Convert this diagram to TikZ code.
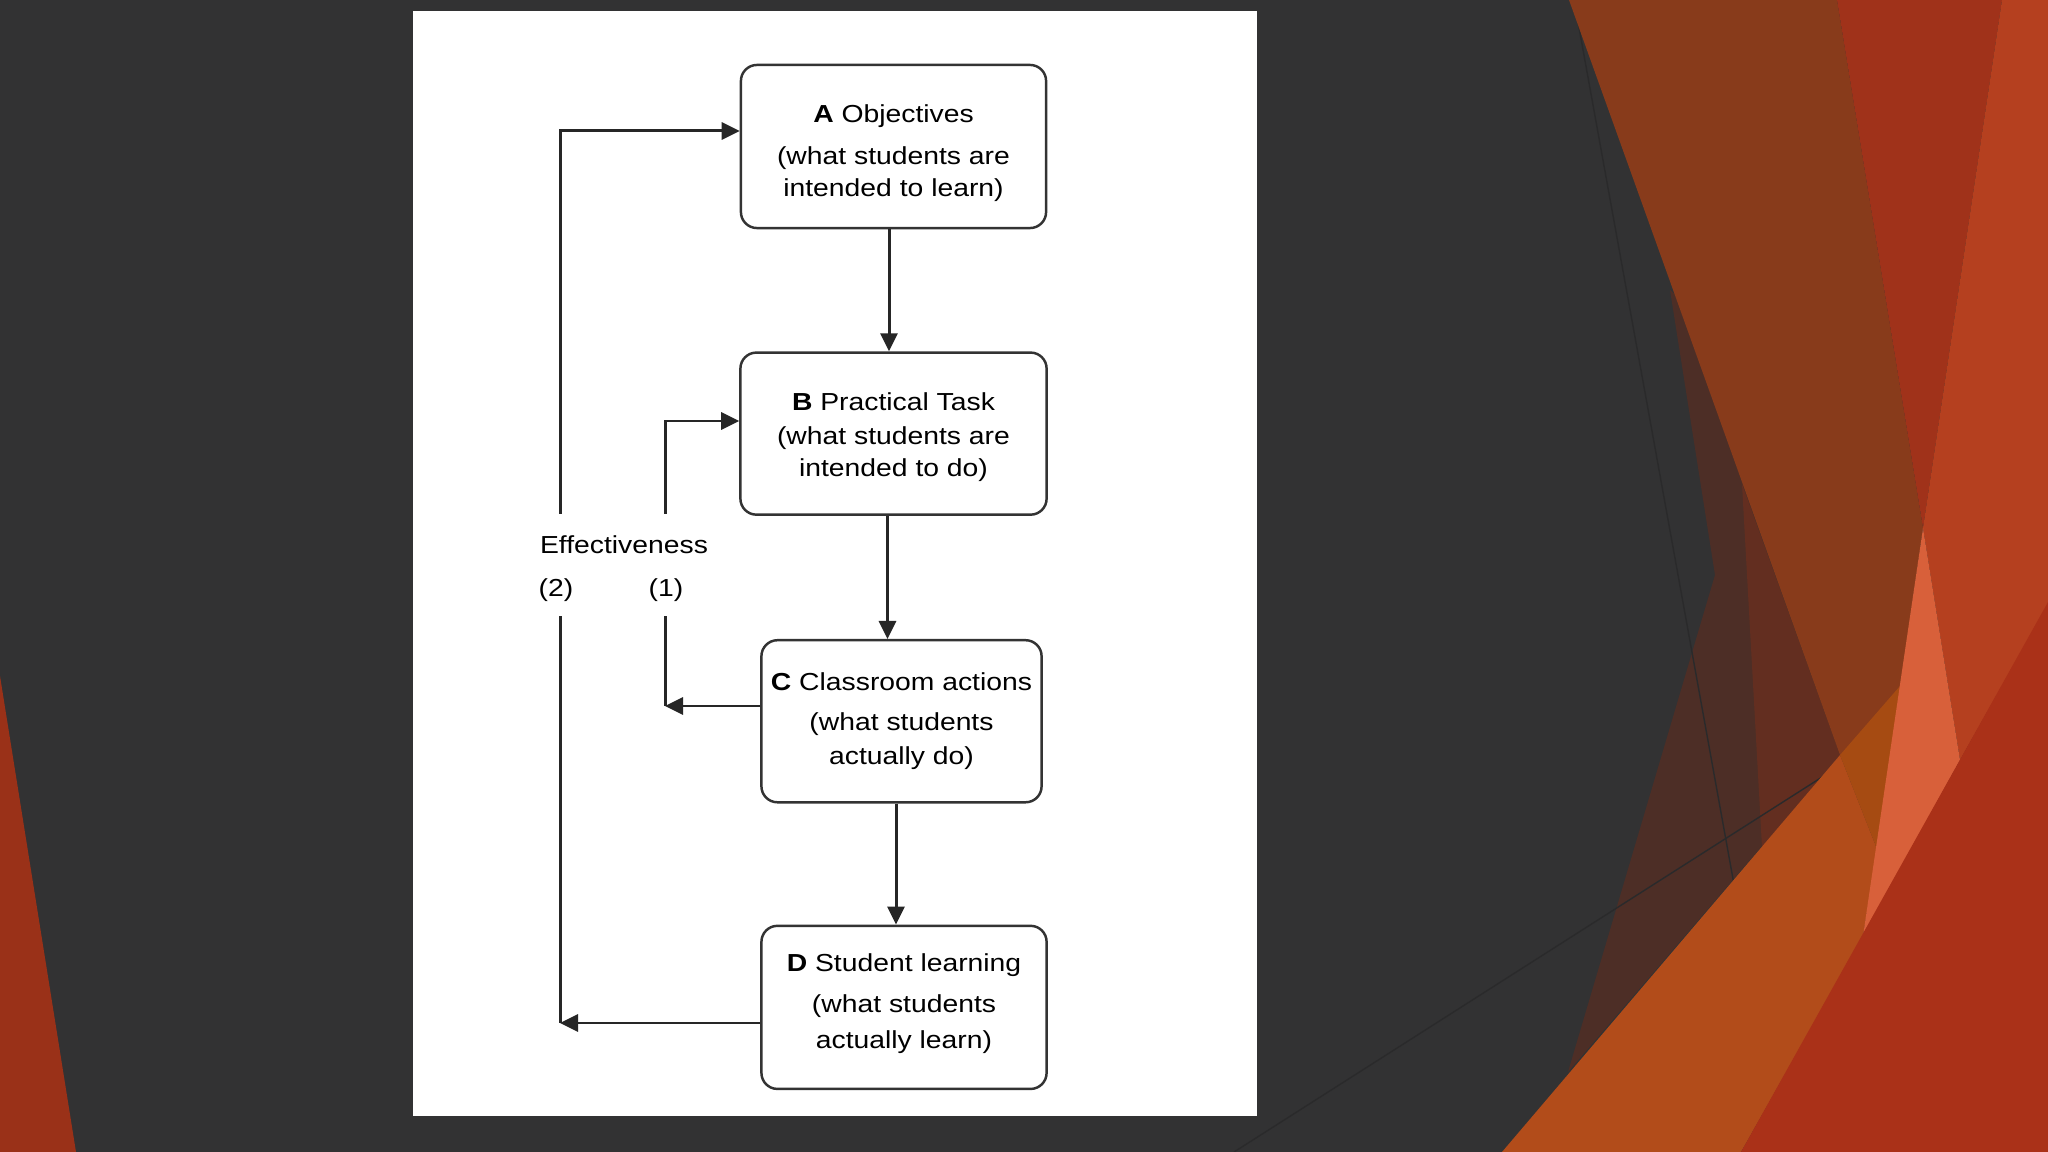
\documentclass[tikz,border=0pt]{standalone}
\usepackage{fontspec}
\setmainfont[FakeStretch=1.15]{Liberation Sans}
\usetikzlibrary{arrows.meta,positioning}
\definecolor{slidebg}{HTML}{323233}
\definecolor{edgered}{HTML}{9A3118}
\definecolor{duskbrown}{HTML}{4D2E26}
\definecolor{deepbrown}{HTML}{632E20}
\definecolor{rustband}{HTML}{883B1B}
\definecolor{darkred}{HTML}{A0321A}
\definecolor{brightred}{HTML}{B5401F}
\definecolor{salmon}{HTML}{D8603A}
\definecolor{orangeband}{HTML}{B24C1A}
\definecolor{amberlap}{HTML}{A64B12}
\definecolor{lowred}{HTML}{AA3118}
\definecolor{hairline}{HTML}{2A2A2B}
\tikzset{
  >=Triangle,
  font=\fontsize{7pt}{9.1pt}\selectfont,
  stage/.style ={draw=black!80, line width=0.7pt, rounded corners=1.6mm, fill=white, align=center, inner sep=0pt},
  arr/.style   ={-{Triangle[length=1.8mm,width=1.7mm]}, line width=0.85pt, black!85},
  lnk/.style   ={line width=0.85pt, black!85},
  lbl/.style   ={inner sep=0pt},
  hair/.style  ={draw=hairline, line width=0.4pt},
}

\begin{document}
\begin{tikzpicture}[x=0.01cm, y=-0.01cm, node distance=1.22cm]
  \useasboundingbox (0,0) rectangle (2048,1152);
  % slide background
  \fill[slidebg] (0,0) rectangle (2048,1152);
  \fill[white] (413,11) rectangle (1257,1116);
  \fill[edgered] (0,676) -- (76,1152) -- (0,1152) -- cycle;
  \fill[duskbrown] (1670,290) -- (1715,575) -- (1568,1072) -- (1840,755) -- (1800,400) -- cycle;
  \fill[deepbrown] (1742,484) -- (1840,755) -- (1762,847) -- cycle;
  \draw[hair] (1574,0) -- (1735,890);
  \draw[hair] (1234,1152) -- (1830,772);
  \fill[rustband] (1569,0) -- (1837,0) -- (1923,528) -- (1877,849) -- (1840,755) -- cycle;
  \fill[darkred] (1837,0) -- (2002,0) -- (1923,528) -- cycle;
  \fill[brightred] (2002,0) -- (2048,0) -- (2048,604) -- (1960,760) -- (1923,528) -- cycle;
  \fill[orangeband] (1502,1152) -- (1840,755) -- (1877,849) -- (1863,936) -- (1741,1152) -- cycle;
  \fill[amberlap] (1840,755) -- (1900,686) -- (1877,849) -- cycle;
  \fill[salmon] (1923,528) -- (1960,760) -- (1863,936) -- cycle;
  \fill[lowred] (1741,1152) -- (2048,602) -- (2048,1152) -- cycle;

  % stages
  \node[stage, minimum width=3.05cm, minimum height=1.63cm] (A) at (893.5,146.5)
    {\rule{0pt}{8.8pt}\textbf{A} Objectives\\[2.8pt](what students are\\intended to learn)};
  \node[stage, minimum width=3.06cm, minimum height=1.62cm, below=of A] (B)
    {\rule{0pt}{7pt}\textbf{B} Practical Task\\[0.6pt](what students are\\intended to do)};
  \node[stage, minimum width=2.80cm, minimum height=1.62cm, below=1.23cm of B, xshift=0.08cm] (C)
    {\textbf{C} Classroom actions\\[2.3pt](what students\\[0.6pt]actually do)};
  \node[stage, minimum width=2.85cm, minimum height=1.63cm, below=1.21cm of C, xshift=0.025cm] (D)
    {\textbf{D} Student learning\\[2.8pt](what students\\[1pt]actually learn)\rule[-3.7pt]{0pt}{3.7pt}};

  % forward arrows
  \draw[arr] ([xshift=-0.045cm]A.south) -- ([xshift=-0.045cm]A.south |- B.north);
  \draw[arr] ([xshift=-0.06cm]B.south) -- ([xshift=-0.06cm]B.south |- C.north);
  \draw[arr] ([xshift=-0.055cm]C.south) -- ([xshift=-0.055cm]C.south |- D.north);

  % feedback loops
  \node[lbl] (eff) at (624,545) {Effectiveness};
  \node[lbl] (n2) at (556,590) {(2)};
  \node[lbl] (n1) at (666,590) {(1)};
  \coordinate (upA)  at (560,131);
  \coordinate (up2)  at (560,514);
  \coordinate (dn2)  at (560,616);
  \coordinate (lowD) at (560,1023);
  \coordinate (upB)  at (665,421);
  \coordinate (up1)  at (665,514);
  \coordinate (dn1)  at (665,616);
  \coordinate (lowC) at (665,706);
  \draw[arr] (up2) -- (upA) -- (upA -| A.west);
  \draw[arr] (up1) -- (upB) -- (upB -| B.west);
  \draw[arr] (lowC -| C.west) -- (lowC);
  \draw[lnk] (dn1) -- (lowC);
  \draw[arr] (lowD -| D.west) -- (lowD);
  \draw[lnk] (dn2) -- (lowD);
\end{tikzpicture}
\end{document}
